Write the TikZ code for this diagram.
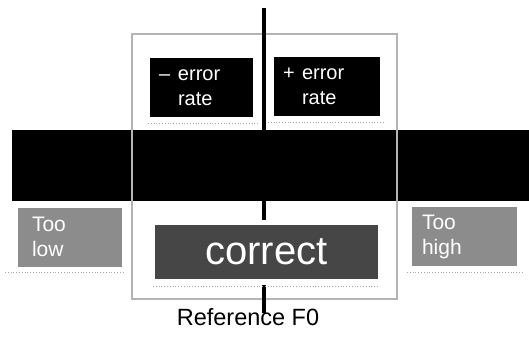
\documentclass[tikz,border=0pt]{standalone}
\usepackage{fontspec}
\setmainfont{Liberation Sans}
\definecolor{framegray}{HTML}{B4B4B4}
\definecolor{midgray}{HTML}{8C8C8C}
\definecolor{darkgray}{HTML}{464646}
\definecolor{shadegray}{HTML}{A8A8A8}
\begin{document}
\begin{tikzpicture}[x=1pt,y=-1pt,
  framestyle/.style={draw=framegray, line width=2.5pt},
  frame/.style={rectangle, framestyle, outer sep=0pt, inner sep=0pt},
  axis/.style={line width=4.5pt, draw=black},
  band/.style={rectangle, fill=black, inner sep=0pt, outer sep=0pt},
  errbox/.style={rectangle, fill=black, text=white, inner xsep=9pt, inner ysep=0pt,
    outer sep=0pt, align=left, minimum height=59pt, text width=85pt,
    font=\fontsize{20}{25}\selectfont},
  sidebox/.style={rectangle, fill=midgray, text=white, inner ysep=0pt, outer sep=0pt,
    align=left, minimum height=59pt, font=\fontsize{21}{25}\selectfont},
  goodbox/.style={rectangle, fill=darkgray, text=white, inner sep=0pt, outer sep=0pt,
    minimum width=223pt, minimum height=54pt, font=\fontsize{40}{44}\selectfont,
    preaction={draw=white, line width=11pt}},
  shade/.style={draw=shadegray, line width=0.8pt, dotted},
  caption/.style={font=\fontsize{23.5}{28}\selectfont, anchor=base}
]
\useasboundingbox (0,0) rectangle (529,345);

% outer frame around the central region
\node[frame, minimum width=265pt, minimum height=265pt] (frame) at (264.5,166.5) {};

% reference axis
\coordinate (top) at (264,8);
\coordinate (bottom) at (264,313);
\draw[axis] (top) -- (bottom);

% horizontal black band
\node[band, minimum width=517pt, minimum height=71pt] (band) at (270.5,165.5) {};
\draw[framestyle] (frame.north west |- band.north) -- (frame.north west |- band.south);
\draw[framestyle] (frame.north east |- band.north) -- (frame.north east |- band.south);

% error rate boxes
\node[errbox] (minus) at (201.5,87.5) {\makebox[19pt][l]{–}error\\\hspace*{19pt}rate};
\node[errbox, minimum width=106pt, text width=88pt] (plus) at (327,86.5) {\makebox[19pt][l]{+}error\\\hspace*{19pt}rate};

% side boxes
\node[sidebox, inner xsep=14pt, text width=76pt] (low) at (70,237) {Too\\low};
\node[sidebox, inner xsep=10pt, text width=85pt] (high) at (464.5,236.5) {Too\\high};

% central box
\node[goodbox] (good) at (266.5,252) {correct};

% faint lines under the boxes
\draw[shade] ([xshift=-2pt,yshift=-6pt]minus.south west) -- ([xshift=5pt,yshift=-6pt]minus.south east);
\draw[shade] ([xshift=-6pt,yshift=-6pt]plus.south west) -- ([xshift=3pt,yshift=-6pt]plus.south east);
\draw[shade] ([xshift=-13pt,yshift=-6pt]low.south west) -- ([xshift=3pt,yshift=-6pt]low.south east);
\draw[shade] ([xshift=-5pt,yshift=-6pt]high.south west) -- ([xshift=5pt,yshift=-6pt]high.south east);
\draw[shade] ([xshift=-2pt,yshift=-7pt]good.south west) -- ([xshift=1pt,yshift=-7pt]good.south east);

% axis label
\node[caption] (label) at (248,325) {Reference F0};
\end{tikzpicture}
\end{document}
